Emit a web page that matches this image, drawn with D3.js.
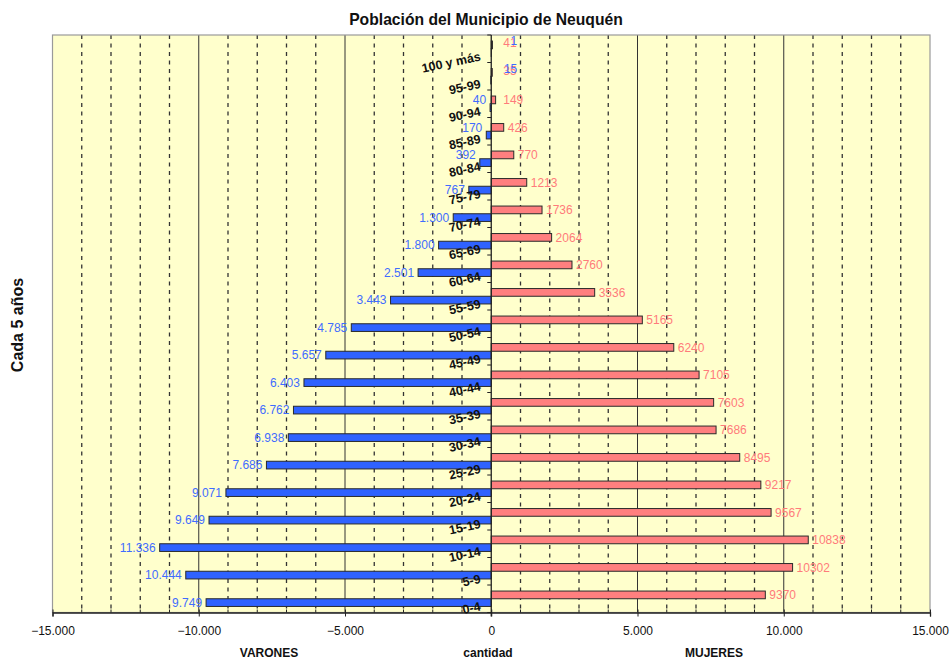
<!DOCTYPE html>
<html>
<head>
<meta charset="utf-8">
<script src="https://cdn.jsdelivr.net/npm/d3@7"></script>
<style>
  html, body { margin: 0; padding: 0; background: #ffffff; }
  svg { display: block; font-family: "Liberation Sans", Arial, sans-serif; }
</style>
</head>
<body>
<svg id="chart" width="952" height="659"></svg>
<script>
// Age groups, youngest first
const categories = ["0-4","5-9","10-14","15-19","20-24","25-29","30-34","35-39","40-44","45-49",
  "50-54","55-59","60-64","65-69","70-74","75-79","80-84","85-89","90-94","95-99","100 y más"];
// Men per age group (drawn to the left)
const varones = [9749,10444,11336,9649,9071,7686,6938,6762,6403,5657,
  4785,3443,2501,1800,1300,767,392,170,40,15,1];
// Women per age group (drawn to the right)
const mujeres = [9370,10302,10838,9567,9217,8495,7686,7603,7105,6240,
  5165,3536,2760,2064,1736,1213,770,426,149,35,41];
// Value axis tick values
const xTicks = [-15000,-10000,-5000,0,5000,10000,15000];

const W = 952, H = 659;
const plot = { left: 52.5, right: 930, top: 35, bottom: 612.5 };

const svg = d3.select("#chart");
const es = d3.formatLocale({ decimal: ",", thousands: ".", grouping: [3], currency: ["$", ""] });
const fmtDot = es.format(",d");

const x = d3.scaleLinear().domain([-15000, 15000]).range([plot.left, plot.right]);
const y = d3.scaleBand().domain(categories.slice().reverse())
  .range([plot.top, plot.bottom]).paddingInner(0).paddingOuter(0);

const bw = y.bandwidth();
const barH = bw * 0.28;

// Plot background
svg.append("rect")
  .attr("x", plot.left).attr("y", plot.top)
  .attr("width", plot.right - plot.left).attr("height", plot.bottom - plot.top)
  .attr("fill", "#ffffcc");

// Minor (dashed) and major (solid) gridlines
const minor = d3.range(-14000, 15000, 1000).filter(v => v % 5000 !== 0);
svg.append("g").selectAll("line").data(minor).join("line")
  .attr("x1", d => x(d)).attr("x2", d => x(d))
  .attr("y1", plot.top).attr("y2", plot.bottom)
  .attr("stroke", "#333").attr("stroke-width", 1.3).attr("stroke-dasharray", "4,4.5");
const major = xTicks.filter(v => v !== 0 && Math.abs(v) !== 15000);
svg.append("g").selectAll("line").data(major).join("line")
  .attr("x1", d => x(d)).attr("x2", d => x(d))
  .attr("y1", plot.top).attr("y2", plot.bottom)
  .attr("stroke", "#333").attr("stroke-width", 1);

// Plot border
svg.append("rect")
  .attr("x", plot.left).attr("y", plot.top)
  .attr("width", plot.right - plot.left).attr("height", plot.bottom - plot.top)
  .attr("fill", "none").attr("stroke", "#9a9a9a").attr("stroke-width", 1.2);

const rows = categories.map((c, i) => ({ c, v: varones[i], m: mujeres[i] }));

// Women bars: upper half of each pair
svg.append("g").selectAll("rect").data(rows).join("rect")
  .attr("x", x(0))
  .attr("y", d => y(d.c) + bw / 2 - barH)
  .attr("width", d => x(d.m) - x(0))
  .attr("height", barH)
  .attr("fill", "#ff7f7f").attr("stroke", "#2a2a2a").attr("stroke-width", 1);

// Men bars: lower half of each pair
svg.append("g").selectAll("rect").data(rows).join("rect")
  .attr("x", d => x(-d.v))
  .attr("y", d => y(d.c) + bw / 2)
  .attr("width", d => x(0) - x(-d.v))
  .attr("height", barH)
  .attr("fill", "#2f62ff").attr("stroke", "#2a2a2a").attr("stroke-width", 1);

// Bottom value axis
const xAxis = d3.axisBottom(x).tickValues(xTicks).tickSize(4).tickPadding(10)
  .tickFormat(d => fmtDot(d));
const gx = svg.append("g").attr("transform", `translate(0,${plot.bottom})`).call(xAxis);
gx.select(".domain").attr("stroke", "#222").attr("stroke-width", 1.3);
gx.selectAll(".tick line").attr("stroke", "#222").attr("y1", -3);
gx.selectAll(".tick text").attr("font-size", 12).attr("fill", "#111")
  .attr("font-family", "'Liberation Sans', Arial, sans-serif");
// Minor ticks on the value axis
svg.append("g").selectAll("line").data(minor).join("line")
  .attr("x1", d => x(d)).attr("x2", d => x(d))
  .attr("y1", plot.bottom - 3).attr("y2", plot.bottom)
  .attr("stroke", "#222").attr("stroke-width", 1);

// Category axis at zero
svg.append("line")
  .attr("x1", x(0)).attr("x2", x(0)).attr("y1", plot.top).attr("y2", plot.bottom + 4)
  .attr("stroke", "#222").attr("stroke-width", 1.3);
const bounds = categories.map(c => y(c)).concat([plot.bottom]);
svg.append("g").selectAll("line").data(bounds).join("line")
  .attr("x1", x(0) - 4).attr("x2", x(0))
  .attr("y1", d => d).attr("y2", d => d)
  .attr("stroke", "#222").attr("stroke-width", 1);

// Category labels, slanted
svg.append("g").selectAll("text").data(rows).join("text")
  .attr("transform", d => `translate(${x(0) - 10},${y(d.c) + bw / 2 + 11.5}) rotate(-12)`)
  .attr("text-anchor", "end")
  .attr("font-size", 12.5).attr("font-weight", "bold").attr("fill", "#111")
  .text(d => d.c);

// Women value labels, kept clear of the category axis
svg.append("g").selectAll("text").data(rows).join("text")
  .attr("x", d => Math.max(x(d.m) + 4, x(0) + 12))
  .attr("y", d => y(d.c) + bw / 2 - barH / 2 - (d.m < 100 ? 2 : 0))
  .attr("dy", "0.35em")
  .attr("font-size", 12).attr("fill", "#ff7b7b")
  .text(d => d.m);

// Men value labels; short bars lift the label to the upper row
svg.append("g").selectAll("text").data(rows).join("text")
  .attr("x", d => d.v < 20 ? x(0) + 26 : x(-d.v) - 4)
  .attr("y", d => d.v < 500 ? y(d.c) + bw / 2 - barH / 2 - (d.v < 20 ? 4 : 0) : y(d.c) + bw / 2 + barH / 2)
  .attr("dy", "0.35em")
  .attr("text-anchor", "end")
  .attr("font-size", 12).attr("fill", "#3f6cff")
  .text(d => fmtDot(d.v));

// Titles
svg.append("text").attr("x", 486).attr("y", 25).attr("text-anchor", "middle")
  .attr("font-size", 15.7).attr("font-weight", "bold").attr("fill", "#111")
  .text("Población del Municipio de Neuquén");
svg.append("text").attr("transform", "translate(23,325) rotate(-90)")
  .attr("text-anchor", "middle")
  .attr("font-size", 16).attr("font-weight", "bold").attr("fill", "#111")
  .text("Cada 5 años");
svg.append("text").attr("x", 269).attr("y", 657).attr("text-anchor", "middle")
  .attr("font-size", 12).attr("font-weight", "bold").attr("fill", "#111").text("VARONES");
svg.append("text").attr("x", 488).attr("y", 657).attr("text-anchor", "middle")
  .attr("font-size", 12).attr("font-weight", "bold").attr("fill", "#111").text("cantidad");
svg.append("text").attr("x", 714).attr("y", 657).attr("text-anchor", "middle")
  .attr("font-size", 12).attr("font-weight", "bold").attr("fill", "#111").text("MUJERES");
</script>
</body>
</html>
